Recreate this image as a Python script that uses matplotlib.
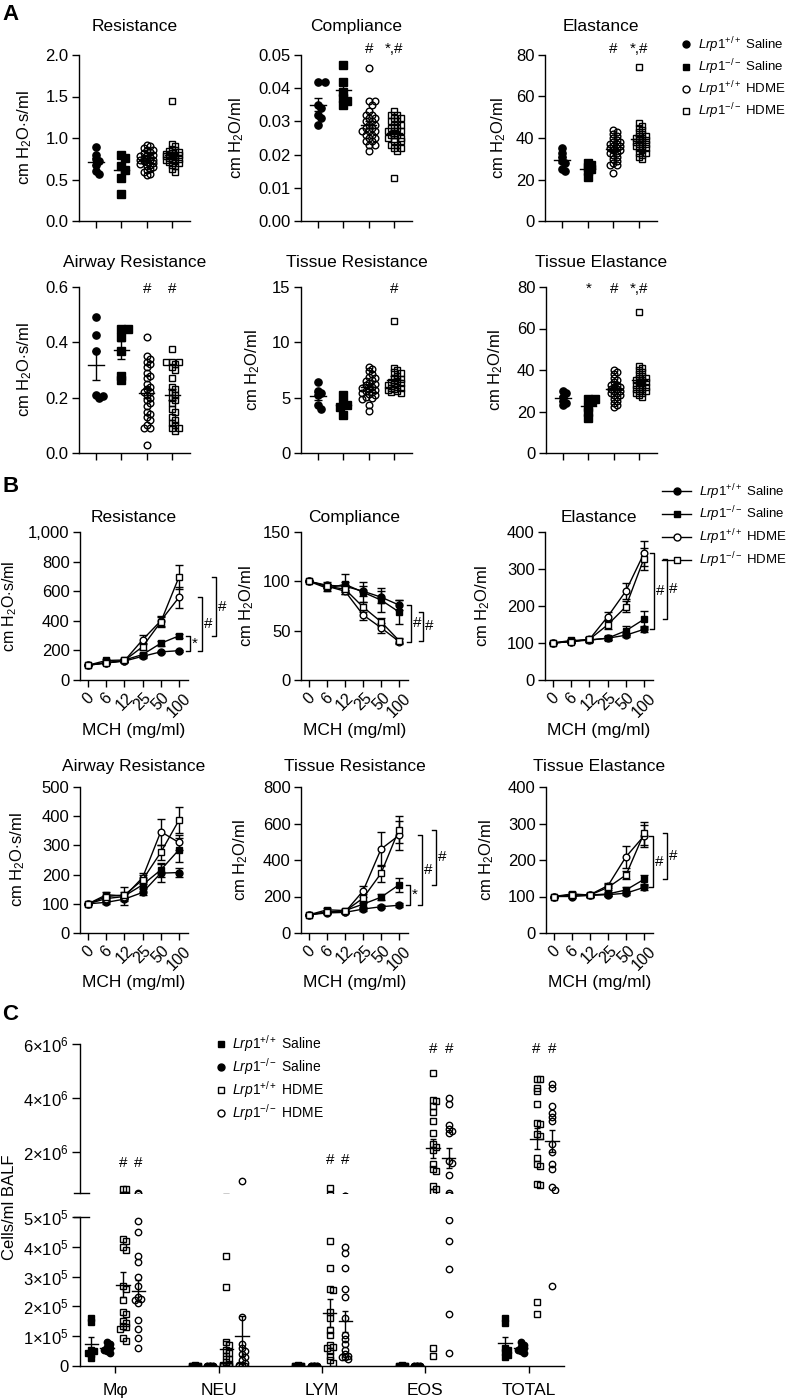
import numpy as np
import matplotlib
matplotlib.use('Agg')
import matplotlib.pyplot as plt
from matplotlib.lines import Line2D
from matplotlib.ticker import FuncFormatter

plt.rcParams['font.family'] = ['Liberation Sans', 'DejaVu Sans']
plt.rcParams['mathtext.fontset'] = 'custom'
plt.rcParams['mathtext.rm'] = 'Liberation Sans'
plt.rcParams['mathtext.it'] = 'Liberation Sans:italic'
plt.rcParams['mathtext.bf'] = 'Liberation Sans:bold'
plt.rcParams['axes.linewidth'] = 1.0

# group order in A and B: WT saline, KO saline, WT HDME, KO HDME
GROUP_LABELS = [r'$\mathit{Lrp1}^{+/+}$ Saline', r'$\mathit{Lrp1}^{-/-}$ Saline',
                r'$\mathit{Lrp1}^{+/+}$ HDME', r'$\mathit{Lrp1}^{-/-}$ HDME']

# ---------------- panel A (individual mice) ----------------
a_resistance = [
    [0.89, 0.80, 0.75, 0.72, 0.68, 0.60, 0.57],
    [0.79, 0.76, 0.66, 0.62, 0.52, 0.32],
    [0.92, 0.90, 0.88, 0.86, 0.85, 0.83, 0.82, 0.80, 0.79, 0.78, 0.77, 0.76, 0.75, 0.74,
     0.74, 0.73, 0.72, 0.71, 0.70, 0.69, 0.68, 0.66, 0.65, 0.63, 0.61, 0.59, 0.57, 0.55],
    [1.44, 0.93, 0.90, 0.87, 0.85, 0.84, 0.83, 0.82, 0.81, 0.80, 0.80, 0.79, 0.78, 0.78,
     0.77, 0.76, 0.75, 0.74, 0.73, 0.72, 0.71, 0.70, 0.68, 0.66, 0.63, 0.59],
]
a_compliance = [
    [0.042, 0.042, 0.035, 0.034, 0.032, 0.031, 0.029],
    [0.047, 0.042, 0.039, 0.037, 0.036, 0.035],
    [0.046, 0.036, 0.036, 0.035, 0.033, 0.032, 0.032, 0.031, 0.031, 0.030, 0.030, 0.029,
     0.029, 0.028, 0.028, 0.027, 0.027, 0.027, 0.026, 0.026, 0.025, 0.025, 0.024, 0.024,
     0.023, 0.023, 0.021],
    [0.033, 0.032, 0.032, 0.031, 0.031, 0.030, 0.030, 0.029, 0.029, 0.028, 0.028, 0.027,
     0.027, 0.027, 0.026, 0.026, 0.026, 0.025, 0.025, 0.024, 0.024, 0.023, 0.023, 0.022,
     0.022, 0.021, 0.013],
]
a_elastance = [
    [35, 33, 31, 29, 28, 25, 24],
    [28, 27, 26, 25, 24, 21],
    [44, 43, 42, 41, 40, 39, 38, 38, 37, 37, 36, 36, 35, 35, 34, 34, 33, 33, 32, 31,
     30, 29, 28, 27, 27, 23],
    [74, 47, 46, 45, 44, 43, 42, 41, 41, 40, 40, 39, 39, 38, 38, 37, 37, 36, 36, 35,
     35, 34, 33, 33, 32, 31, 30],
]
a_airway_res = [
    [0.49, 0.425, 0.37, 0.21, 0.205, 0.198],
    [0.45, 0.45, 0.42, 0.37, 0.28, 0.265],
    [0.42, 0.35, 0.34, 0.33, 0.32, 0.31, 0.29, 0.28, 0.27, 0.25, 0.24, 0.23, 0.22, 0.22,
     0.21, 0.20, 0.19, 0.18, 0.17, 0.15, 0.14, 0.13, 0.12, 0.10, 0.09, 0.09, 0.03],
    [0.375, 0.33, 0.33, 0.33, 0.32, 0.31, 0.30, 0.27, 0.24, 0.23, 0.22, 0.21, 0.20, 0.19,
     0.18, 0.16, 0.15, 0.13, 0.12, 0.11, 0.10, 0.09, 0.09, 0.08],
]
a_tissue_res = [
    [6.4, 5.6, 5.4, 5.2, 4.3, 4.0],
    [5.2, 4.5, 4.3, 4.2, 3.4],
    [7.8, 7.6, 7.4, 7.1, 6.9, 6.8, 6.6, 6.5, 6.3, 6.2, 6.1, 6.0, 5.9, 5.8, 5.7, 5.6,
     5.5, 5.4, 5.3, 5.2, 5.1, 5.0, 4.9, 4.3, 3.8],
    [11.9, 7.7, 7.5, 7.3, 7.2, 7.0, 6.8, 6.7, 6.5, 6.4, 6.3, 6.2, 6.1, 6.0, 5.9, 5.9,
     5.8, 5.7, 5.6, 5.5, 5.4],
]
a_tissue_el = [
    [30, 29, 27, 25, 24, 23],
    [26, 26, 25, 22, 20, 17],
    [40, 39, 38, 36, 35, 34, 33, 33, 32, 32, 31, 31, 30, 30, 29, 29, 28, 28, 27, 26,
     25, 24, 23, 22],
    [68, 42, 41, 40, 39, 38, 37, 36, 36, 35, 35, 34, 34, 33, 33, 32, 32, 31, 31, 30,
     30, 29, 29, 28, 27],
]

# ---------------- panel B (MCH dose response, % baseline) ----------------
mch_doses = ['0', '6', '12', '25', '50', '100']
b_resistance = [[100, 115, 128, 160, 190, 198], [100, 132, 135, 172, 248, 298],
                [100, 115, 130, 272, 400, 558], [100, 118, 132, 225, 392, 695]]
b_resistance_sem = [[0, 8, 8, 10, 8, 8], [0, 10, 10, 12, 15, 15],
                    [0, 8, 10, 30, 35, 70], [0, 8, 10, 25, 35, 80]]
b_compliance = [[100, 96, 95, 90, 84, 76], [100, 93, 97, 89, 81, 69],
                [100, 95, 90, 66, 53, 39], [100, 95, 92, 74, 59, 40]]
b_compliance_sem = [[0, 3, 4, 5, 6, 5], [0, 3, 10, 10, 12, 12],
                    [0, 2, 3, 5, 5, 3], [0, 2, 3, 5, 4, 3]]
b_elastance = [[100, 104, 108, 113, 121, 137], [100, 107, 108, 113, 133, 164],
               [100, 104, 110, 171, 240, 342], [100, 104, 110, 149, 198, 328]]
b_elastance_sem = [[0, 3, 4, 5, 6, 8], [0, 4, 5, 6, 12, 22],
                   [0, 3, 5, 12, 22, 35], [0, 3, 5, 12, 15, 30]]
b_airway_res = [[100, 105, 116, 139, 205, 207], [100, 131, 127, 165, 216, 285],
                [100, 118, 125, 190, 347, 310], [100, 125, 130, 182, 276, 386]]
b_airway_res_sem = [[0, 5, 8, 10, 30, 15], [0, 8, 30, 12, 25, 42],
                    [0, 6, 10, 15, 45, 25], [0, 6, 10, 15, 25, 45]]
b_tissue_res = [[100, 110, 113, 131, 144, 152], [100, 127, 123, 158, 196, 264],
                [100, 115, 115, 230, 460, 535], [100, 115, 120, 191, 327, 567]]
b_tissue_res_sem = [[0, 5, 5, 8, 8, 10], [0, 8, 8, 15, 15, 40],
                    [0, 6, 8, 30, 95, 80], [0, 6, 8, 25, 45, 75]]
b_tissue_el = [[100, 100, 103, 105, 109, 125], [100, 107, 104, 107, 118, 147],
               [100, 104, 105, 130, 209, 266], [100, 104, 104, 125, 159, 273]]
b_tissue_el_sem = [[0, 3, 3, 4, 5, 6], [0, 4, 4, 5, 8, 12],
                   [0, 3, 4, 8, 30, 30], [0, 3, 4, 8, 12, 32]]

# ---------------- panel C (BALF cells) ----------------
cell_types = ['M\u03c6', 'NEU', 'LYM', 'EOS', 'TOTAL']
c_wt_saline = [
    [1.6e5, 1.48e5, 0.55e5, 0.5e5, 0.45e5, 0.4e5, 0.28e5],
    [2000, 1500, 1000, 800, 500, 300, 100],
    [2000, 1500, 1000, 800, 500, 300, 100],
    [2000, 1500, 1000, 800, 500, 300, 100],
    [1.6e5, 1.45e5, 0.62e5, 0.55e5, 0.48e5, 0.38e5, 0.3e5],
]
c_ko_saline = [
    [0.8e5, 0.75e5, 0.65e5, 0.6e5, 0.55e5, 0.5e5, 0.45e5],
    [1500, 1200, 1000, 700, 500, 300, 100],
    [1500, 1200, 1000, 700, 500, 300, 100],
    [1500, 1200, 1000, 700, 500, 300, 100],
    [0.8e5, 0.72e5, 0.65e5, 0.6e5, 0.55e5, 0.5e5, 0.45e5],
]
c_wt_hdme = [
    [6.6e5, 6.5e5, 4.25e5, 4.2e5, 4.0e5, 3.9e5, 2.7e5, 2.6e5, 2.2e5, 1.8e5, 1.75e5,
     1.5e5, 1.45e5, 1.35e5, 1.3e5, 1.25e5, 0.95e5, 0.85e5],
    [3.7e5, 2.65e5, 0.8e5, 0.7e5, 0.55e5, 0.45e5, 0.35e5, 0.25e5, 0.15e5, 0.08e5,
     0.05e5, 0.02e5, 0.01e5, 0.01e5, 500, 500, 0],
    [7.0e5, 4.2e5, 3.3e5, 2.6e5, 2.55e5, 1.8e5, 1.6e5, 1.2e5, 1.05e5, 0.7e5, 0.65e5,
     0.6e5, 0.5e5, 0.35e5, 0.2e5, 0.1e5],
    [4.94e6, 3.95e6, 3.9e6, 3.7e6, 3.5e6, 3.14e6, 2.7e6, 2.3e6, 2.2e6, 2.1e6, 1.56e6,
     1.38e6, 1.3e6, 0.75e6, 0.65e6, 0.53e6, 0.6e5, 0.35e5],
    [4.7e6, 4.7e6, 4.38e6, 4.25e6, 3.8e6, 3.1e6, 3.05e6, 2.66e6, 2.6e6, 1.8e6, 1.56e6,
     1.5e6, 0.83e6, 0.78e6, 2.15e5, 1.74e5],
]
c_ko_hdme = [
    [4.85e5, 4.5e5, 3.7e5, 3.5e5, 3.0e5, 2.7e5, 2.3e5, 2.25e5, 2.2e5, 2.1e5, 1.55e5,
     1.25e5, 0.95e5, 0.6e5],
    [9.5e5, 1.65e5, 0.75e5, 0.6e5, 0.5e5, 0.4e5, 0.3e5, 0.2e5, 0.1e5, 0.05e5, 0.02e5,
     0.01e5, 500, 0],
    [4.0e5, 3.8e5, 3.3e5, 2.6e5, 2.3e5, 1.6e5, 1.05e5, 0.9e5, 0.75e5, 0.55e5, 0.4e5,
     0.35e5, 0.3e5, 0.3e5, 0.25e5],
    [4.0e6, 3.8e6, 3.0e6, 2.85e6, 2.8e6, 2.7e6, 1.67e6, 1.6e6, 1.16e6, 4.9e5, 4.2e5,
     3.25e5, 1.74e5, 0.44e5],
    [4.53e6, 4.38e6, 3.7e6, 3.47e6, 3.3e6, 3.14e6, 2.3e6, 2.0e6, 1.56e6, 1.4e6, 0.72e6,
     0.6e6, 0.27e6],
]
c_upper_ticklabels = [r'$2{\times}10^{6}$', r'$4{\times}10^{6}$', r'$6{\times}10^{6}$']
c_lower_ticklabels = ['0', r'$1{\times}10^{5}$', r'$2{\times}10^{5}$', r'$3{\times}10^{5}$',
                      r'$4{\times}10^{5}$', r'$5{\times}10^{5}$']
# significance marks in C: (cell type, group, level)
c_marks = [(0, 2, 1.6e6), (0, 3, 1.6e6), (2, 2, 1.7e6), (2, 3, 1.7e6),
           (3, 2, 5.8e6), (3, 3, 5.8e6), (4, 2, 5.8e6), (4, 3, 5.8e6)]

W, H = 787, 1398
fig = plt.figure(figsize=(W / 100, H / 100), dpi=100)


def add_ax(box):
    l, t, r, b = box
    return fig.add_axes([l / W, 1 - b / H, (r - l) / W, (b - t) / H])


def style_ax(ax, size=12):
    for s in ('top', 'right'):
        ax.spines[s].set_visible(False)
    ax.tick_params(direction='out', length=5, width=1, labelsize=size, pad=2.5)


def place_ylabel(ax, text, dist_px, w_px, size=12):
    #centre of the rotated label sits dist_px left of the y axis
    ax.set_ylabel(text, fontsize=size)
    ax.yaxis.label.set_verticalalignment('center')
    ax.yaxis.set_label_coords(-dist_px / w_px, 0.5)


def swarm(y_px, d, overlap=0.6, ncol=2):
    #spread points sideways so markers do not sit on top of each other
    xs, ys, out = [], [], []
    cands = [((k + 1) // 2) * (1 if k % 2 else -1) * d * 0.5 for k in range(2 * ncol + 1)]
    for y in y_px:
        chosen, best, best_x = None, -1, 0.0
        for x in cands:
            dmin = min([np.hypot(x - a, y - b) for a, b in zip(xs, ys)] or [1e9])
            if dmin >= d * overlap:
                chosen = x
                break
            if dmin > best:
                best, best_x = dmin, x
        if chosen is None:
            chosen = best_x
        xs.append(chosen)
        ys.append(y)
        out.append(chosen)
    return np.array(out)


AB_MARKERS = [('o', 'k'), ('s', 'k'), ('o', 'none'), ('s', 'none')]

# ---------------- panel A ----------------
a_panels = [
    ('Resistance', r'cm H$_2$O$\cdot$s/ml', a_resistance, 2.0, 0.5, '%.1f', (79, 55, 190, 221), 54, []),
    ('Compliance', r'cm H$_2$O/ml', a_compliance, 0.05, 0.01, '%.2f', (301, 55, 412, 221), 64,
     [(2, '#'), (3, '*,#')]),
    ('Elastance', r'cm H$_2$O/ml', a_elastance, 80, 20, '%d', (545, 55, 657, 221), 46,
     [(2, '#'), (3, '*,#')]),
    ('Airway Resistance', r'cm H$_2$O$\cdot$s/ml', a_airway_res, 0.6, 0.2, '%.1f', (79, 287, 190, 453), 54,
     [(2, '#'), (3, '#')]),
    ('Tissue Resistance', r'cm H$_2$O/ml', a_tissue_res, 15, 5, '%d', (301, 287, 412, 453), 48,
     [(3, '#')]),
    ('Tissue Elastance', r'cm H$_2$O/ml', a_tissue_el, 80, 20, '%d', (546, 287, 657, 453), 50,
     [(1, '*'), (2, '#'), (3, '*,#')]),
]

for k, (title, ylab, data, ytop, ystep, fmt, box, labx, marks) in enumerate(a_panels):
    ax = add_ax(box)
    style_ax(ax)
    xlim = (-0.67, 3.7)
    ax.set_xlim(*xlim)
    ax.set_ylim(0, ytop)
    ticks = np.arange(0, ytop + ystep / 2, ystep)
    ax.set_yticks(ticks)
    ax.set_yticklabels([fmt % t for t in ticks])
    ax.set_xticks(range(4))
    ax.set_xticklabels([])
    w_px, h_px = box[2] - box[0], box[3] - box[1]
    ppx = w_px / (xlim[1] - xlim[0])
    for g, vals in enumerate(data):
        vals = np.array(vals, dtype=float)
        m, fc = AB_MARKERS[g]
        off = swarm(vals * h_px / ytop, 6.5, overlap=0.55, ncol=2) / ppx
        ms = 5.2 if fc == 'k' else 4.8
        ax.plot(g + off, vals, ls='none', marker=m, ms=ms, mfc=fc, mec='k', mew=1, clip_on=False)
        mean = vals.mean()
        sem = vals.std(ddof=1) / np.sqrt(len(vals))
        ax.plot([g - 0.3, g + 0.3], [mean, mean], color='k', lw=1)
        ax.errorbar(g, mean, yerr=sem, fmt='none', ecolor='k', elinewidth=1, capsize=3, capthick=1)
    ty = 1.17 if k < 3 else 1.15
    ax.text(0.5, ty, title, transform=ax.transAxes, ha='center', va='center', fontsize=12.5)
    place_ylabel(ax, ylab, labx, w_px)
    my = 1.035 if k < 3 else 0.99
    for g, txt in marks:
        ax.text(g, ytop * my, txt, ha='center', va='center', fontsize=11)

a_handles = [Line2D([], [], ls='none', marker=m, ms=5, mfc=fc, mec='k', mew=1) for m, fc in AB_MARKERS]
fig.legend(a_handles, GROUP_LABELS, loc='upper left', bbox_to_anchor=(681 / W, 1 - 35 / H),
           frameon=False, fontsize=9.5, handlelength=0.8, handletextpad=0.5,
           labelspacing=0.2, borderpad=0, borderaxespad=0)

# ---------------- panel B ----------------
b_panels = [
    ('Resistance', r'cm H$_2$O$\cdot$s/ml', b_resistance, b_resistance_sem, 1000, 200, (80, 532, 188, 680), 70,
     [(0, 1, '*'), (0, 2, '#'), (1, 3, '#')], [11, 23, 37]),
    ('Compliance', r'cm H$_2$O/ml', b_compliance, b_compliance_sem, 150, 50, (301, 532, 408, 680), 54,
     [(0, 2, '#'), (1, 3, '#')], [12, 24]),
    ('Elastance', r'cm H$_2$O/ml', b_elastance, b_elastance_sem, 400, 100, (545, 532, 653, 680), 62,
     [(0, 2, '#'), (1, 3, '#')], [10, 23]),
    ('Airway Resistance', r'cm H$_2$O$\cdot$s/ml', b_airway_res, b_airway_res_sem, 500, 100, (80, 787, 188, 933), 62,
     [], []),
    ('Tissue Resistance', r'cm H$_2$O/ml', b_tissue_res, b_tissue_res_sem, 800, 200, (301, 787, 408, 933), 60,
     [(0, 1, '*'), (0, 2, '#'), (1, 3, '#')], [11, 23, 37]),
    ('Tissue Elastance', r'cm H$_2$O/ml', b_tissue_el, b_tissue_el_sem, 400, 100, (546, 787, 653, 933), 59,
     [(0, 2, '#'), (1, 3, '#')], [9, 23]),
]

for k, (title, ylab, means, sems, ytop, ystep, box, labx, brackets, offs) in enumerate(b_panels):
    ax = add_ax(box)
    style_ax(ax)
    xlim = (-0.45, 5.5)
    ax.set_xlim(*xlim)
    ax.set_ylim(0, ytop)
    ax.set_yticks(np.arange(0, ytop + 1, ystep))
    ax.yaxis.set_major_formatter(FuncFormatter(lambda v, p: f'{int(v):,}'))
    x = np.arange(len(mch_doses))
    ax.set_xticks(x)
    ax.set_xticklabels(mch_doses, rotation=45, ha='center', fontsize=11.5)
    for g in range(4):
        m, fc = AB_MARKERS[g]
        ax.errorbar(x, means[g], yerr=sems[g], color='k', lw=1, marker=m, ms=5 if fc == 'k' else 4.8,
                    mfc=fc if fc == 'k' else 'white', mec='k', mew=1, elinewidth=1, capsize=3,
                    capthick=1, clip_on=False, zorder=3)
    w_px, h_px = box[2] - box[0], box[3] - box[1]
    ppx = w_px / (xlim[1] - xlim[0])
    for (g0, g1, txt), off in zip(brackets, offs):
        bx = x[-1] + off / ppx
        tk = 4 / ppx
        y0, y1 = means[g0][-1], means[g1][-1]
        ax.plot([bx - tk, bx, bx, bx - tk], [y0, y0, y1, y1], color='k', lw=1, clip_on=False)
        ax.text(bx + 2 / ppx, (y0 + y1) / 2, txt, ha='left', va='center', fontsize=11)
    ty = 1.10 if k < 3 else 1.137
    ax.text(0.5, ty, title, transform=ax.transAxes, ha='center', va='center', fontsize=12.5)
    ax.text(0.5, -0.34, 'MCH (mg/ml)', transform=ax.transAxes, ha='center', va='center', fontsize=12.5)
    place_ylabel(ax, ylab, labx, w_px, 12 if labx < 66 else 11.5)

b_handles = [Line2D([], [], color='k', lw=1, marker=m, ms=5, mfc=fc if fc == 'k' else 'white', mec='k', mew=1)
             for m, fc in AB_MARKERS]
fig.legend(b_handles, GROUP_LABELS, loc='upper left', bbox_to_anchor=(662 / W, 1 - 482 / H),
           frameon=False, fontsize=9.5, handlelength=2.2, handletextpad=0.6,
           labelspacing=0.25, borderpad=0, borderaxespad=0)

# ---------------- panel C (broken y axis) ----------------
C_UP = (80, 1044, 564, 1193)
C_LO = (80, 1217, 564, 1366)
axu = add_ax(C_UP)
axl = add_ax(C_LO)
cxlim = (-0.34, 4.34)
for ax in (axu, axl):
    style_ax(ax, 12)
    ax.set_xlim(*cxlim)
    ax.tick_params(axis='y', length=6)
axu.set_ylim(5e5, 6e6)
axl.set_ylim(0, 5e5)
axu.spines['bottom'].set_visible(False)
axu.set_xticks([])
axu.set_yticks([2e6, 4e6, 6e6])
axu.set_yticklabels(c_upper_ticklabels)
axl.set_yticks(np.arange(0, 5.01e5, 1e5))
axl.set_yticklabels(c_lower_ticklabels)
axl.set_xticks(range(len(cell_types)))
axl.set_xticklabels(cell_types, fontsize=12.5)
axl.tick_params(axis='x', length=5, pad=7)
cw = C_UP[2] - C_UP[0]
for ax, yb in ((axu, 0), (axl, 1)):
    ax.plot([-6 / cw, 9 / cw], [yb, yb], color='k', lw=1, transform=ax.transAxes, clip_on=False)

seg_h = C_UP[3] - C_UP[1]
gap = C_LO[1] - C_UP[3]


def c_px(v):
    v = np.asarray(v, dtype=float)
    return np.where(v <= 5e5, v / 5e5 * seg_h, seg_h + gap + (v - 5e5) / 5.5e6 * seg_h)


C_MARKERS = [('s', 'k'), ('o', 'k'), ('s', 'none'), ('o', 'none')]
c_groups = [c_wt_saline, c_ko_saline, c_wt_hdme, c_ko_hdme]
c_shift = [-0.23, -0.08, 0.075, 0.225]
cppx = cw / (cxlim[1] - cxlim[0])
for g, grp in enumerate(c_groups):
    m, fc = C_MARKERS[g]
    for c, vals in enumerate(grp):
        vals = np.array(vals, dtype=float)
        off = swarm(c_px(vals), 6, overlap=0.55, ncol=1) / cppx
        mean = vals.mean()
        sem = vals.std(ddof=1) / np.sqrt(len(vals))
        xc = c + c_shift[g]
        for ax in (axu, axl):
            ax.plot(xc + off, vals, ls='none', marker=m, ms=4.6, mfc=fc, mec='k', mew=1)
            ax.plot([xc - 0.065, xc + 0.065], [mean, mean], color='k', lw=1)
            ax.errorbar(xc, mean, yerr=sem, fmt='none', ecolor='k', elinewidth=1, capsize=2.5, capthick=1)
for c, g, lvl in c_marks:
    axu.text(c + c_shift[g], lvl, '#', ha='center', va='center', fontsize=11)

fig.text(10 / W, 1 - 1207 / H, 'Cells/ml BALF', rotation=90, ha='center', va='center', fontsize=12)
c_handles = [Line2D([], [], ls='none', marker=m, ms=5, mfc=fc, mec='k', mew=1) for m, fc in C_MARKERS]
fig.legend(c_handles, GROUP_LABELS, loc='upper left', bbox_to_anchor=(216 / W, 1 - 1033 / H),
           frameon=False, fontsize=10, handlelength=0.7, handletextpad=0.45,
           labelspacing=0.15, borderpad=0, borderaxespad=0)

# panel letters
for letter, y in (('A', 15), ('B', 487), ('C', 1015)):
    fig.text(2 / W, 1 - y / H, letter, fontsize=16, fontweight='bold', ha='left', va='center')

fig.savefig('out.png', dpi=100)
